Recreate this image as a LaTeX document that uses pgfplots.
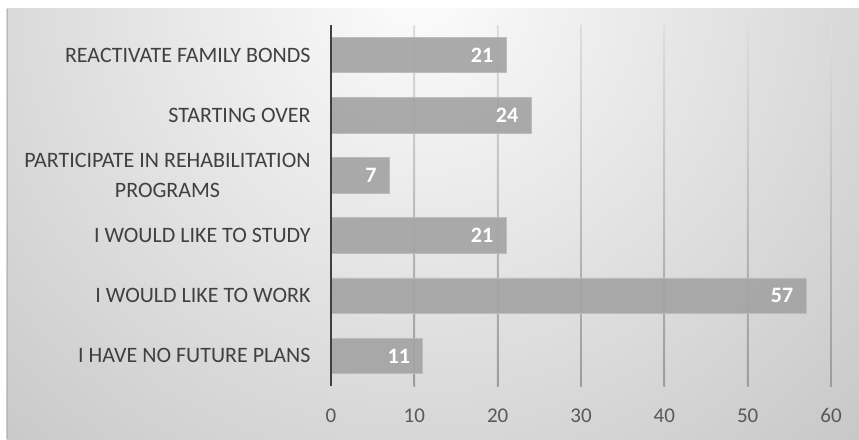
\documentclass[border=0pt]{standalone}
\usepackage{pgfplots}
\pgfplotsset{compat=1.18}
\usepackage{fontspec}
\setmainfont{Carlito}
\definecolor{bgin}{HTML}{FCFCFC}
\definecolor{bgout}{HTML}{C6C6C6}
\definecolor{edge}{HTML}{B8B8B8}
\definecolor{gridtop}{HTML}{DEDEDE}
\definecolor{gridmid}{HTML}{CACACA}
\definecolor{gridbot}{HTML}{9C9C9C}
\definecolor{barfill}{HTML}{A4A4A4}
\definecolor{baredge}{HTML}{BCBCBC}
\definecolor{axisline}{HTML}{404040}
\definecolor{cattext}{HTML}{404040}
\definecolor{ticktext}{HTML}{595959}
\begin{document}
\begin{tikzpicture}
\fill[white] (0pt,0pt) rectangle (859pt,-439pt);
\begin{scope}
\clip (6.5pt,-8.5pt) rectangle (859pt,-439pt);
\shade[inner color=bgin, outer color=bgout] (420pt,10pt) circle (650pt);
\end{scope}
\draw[color=edge, line width=0.8pt] (6.9pt,-8.5pt) -- (6.9pt,-439pt);
\begin{axis}[
  at={(331pt,-386pt)}, anchor=south west,
  scale only axis, width=500pt, height=361pt,
  xmin=0, xmax=60, ymin=-0.5, ymax=5.5,
  clip=false,
  xtick={0,10,...,60}, ytick={0,...,5},
  yticklabels={I HAVE NO FUTURE PLANS, I WOULD LIKE TO WORK, I WOULD LIKE TO STUDY, {PARTICIPATE IN REHABILITATION\\PROGRAMS}, STARTING OVER, REACTIVATE FAMILY BONDS},
  axis line style={draw=none}, tick style={draw=none},
  xticklabel style={font=\fontsize{21}{21}\selectfont, text=ticktext, anchor=base, yshift=-36.5pt},
  yticklabel style={font=\fontsize{22}{30}\selectfont, text=cattext, align=center, inner sep=0pt, xshift=-16pt},
  /pgf/number format/assume math mode=true,
  xbar, bar width=35.6pt,
  nodes near coords,
  every node near coord/.append style={text=white, font=\fontsize{22}{22}\selectfont\bfseries, anchor=east, xshift=-9pt, text opacity=1},
]
\shade[top color=gridtop, middle color=gridmid, bottom color=gridbot] (axis cs:9.9,-0.5) rectangle (axis cs:10.1,5.5);
\shade[top color=gridtop, middle color=gridmid, bottom color=gridbot] (axis cs:19.9,-0.5) rectangle (axis cs:20.1,5.5);
\shade[top color=gridtop, middle color=gridmid, bottom color=gridbot] (axis cs:29.9,-0.5) rectangle (axis cs:30.1,5.5);
\shade[top color=gridtop, middle color=gridmid, bottom color=gridbot] (axis cs:39.9,-0.5) rectangle (axis cs:40.1,5.5);
\shade[top color=gridtop, middle color=gridmid, bottom color=gridbot] (axis cs:49.9,-0.5) rectangle (axis cs:50.1,5.5);
\shade[top color=gridtop, middle color=gridmid, bottom color=gridbot] (axis cs:59.9,-0.5) rectangle (axis cs:60.1,5.5);
\addplot[fill=barfill, draw=baredge, line width=0.8pt, fill opacity=0.92] coordinates {(11,0) (57,1) (21,2) (7,3) (24,4) (21,5)};
\draw[axisline, line width=2.7pt] (axis cs:0,-0.5) -- (axis cs:0,5.5);
\end{axis}
\end{tikzpicture}
\end{document}
